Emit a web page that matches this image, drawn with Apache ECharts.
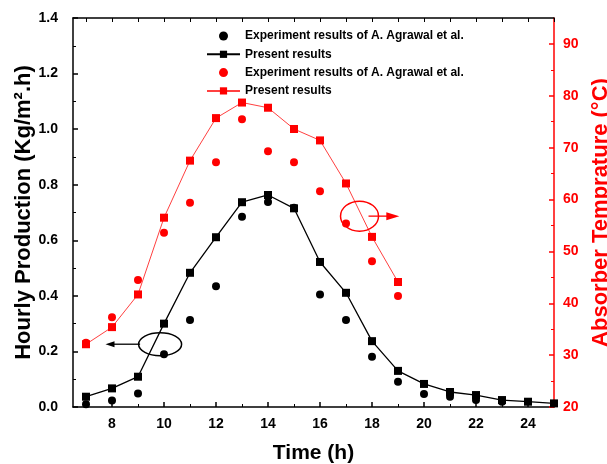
<!DOCTYPE html>
<html><head><meta charset="utf-8">
<script src="https://cdn.jsdelivr.net/npm/echarts@6/dist/echarts.min.js"></script>
<style>html,body{margin:0;padding:0;background:#fff}#c{width:607px;height:464px}</style>
</head><body><div id="c"></div>
<script>
var hoursPresent = [7,8,9,10,11,12,13,14,15,16,17,18,19,20,21,22,23,24,25];
var presentProd = [0.037,0.067,0.109,0.30,0.483,0.611,0.737,0.763,0.715,0.522,0.411,0.237,0.130,0.083,0.054,0.043,0.025,0.019,0.013];
var hoursExp = [7,8,9,10,11,12,13,14,15,16,17,18,19,20,21,22,23];
var expProd = [0.01,0.023,0.049,0.19,0.313,0.435,0.685,0.738,0.717,0.405,0.313,0.181,0.091,0.047,0.037,0.025,0.019];
var hoursTemp = [7,8,9,10,11,12,13,14,15,16,17,18,19];
var presentTemp = [32.1,35.4,41.7,56.5,67.5,75.7,78.7,77.7,73.6,71.4,63.1,52.8,44.1];
var expTemp = [32.4,37.3,44.5,53.6,59.4,67.2,75.5,69.3,67.2,61.6,55.4,48.1,41.4];
var xMajor = [8,10,12,14,16,18,20,22,24];
var xMinor = [7,9,11,13,15,17,19,21,23,25];
var xAll = [7,8,9,10,11,12,13,14,15,16,17,18,19,20,21,22,23,24,25];
var tempMajor = [20,30,40,50,60,70,80,90];
var tempMinor = [25,35,45,55,65,75,85];
var names = ['Experiment results of A. Agrawal et al.', 'Present results', 'Experiment results of A. Agrawal et al. ', 'Present results '];

function pairs(xs, ys){ return xs.map(function(x,i){ return [x, ys[i]]; }); }
var FONT = 'Arial, "Liberation Sans", sans-serif';
var RED = '#ff0000';
var chart = echarts.init(document.getElementById('c'), null, {renderer:'canvas'});
var axBase = {type:'value', min:6.5, max:25, splitLine:{show:false}};
chart.setOption({
  animation:false,
  backgroundColor:'#fff',
  grid:{left:73, right:53, top:18, bottom:57, containLabel:false, outerBoundsMode:'none'},
  legend:{
    orient:'vertical', left:201, top:25, itemWidth:33, itemHeight:9, itemGap:6.3,
    textStyle:{fontFamily:FONT, fontWeight:'bold', fontSize:12, color:'#000'},
    data:names
  },
  xAxis:[
    Object.assign({}, axBase, {position:'bottom', name:'Time (h)', nameLocation:'middle', nameGap:36,
      nameTextStyle:{fontFamily:FONT, fontWeight:'bold', fontSize:21, color:'#000'},
      axisLine:{onZero:false, lineStyle:{color:'#000', width:1.5}},
      axisTick:{inside:true, length:5, customValues:xMajor, lineStyle:{color:'#000', width:1.5}},
      axisLabel:{customValues:xMajor, margin:10, fontFamily:FONT, fontWeight:'bold', fontSize:14, color:'#000'}}),
    Object.assign({}, axBase, {position:'bottom',
      axisLine:{show:false},
      axisTick:{inside:true, length:3, customValues:xMinor, lineStyle:{color:'#000', width:1}},
      axisLabel:{show:false}}),
    Object.assign({}, axBase, {position:'top',
      axisLine:{onZero:false, lineStyle:{color:'#000', width:1.5}},
      axisTick:{inside:true, length:4, customValues:xAll, lineStyle:{color:'#000', width:1}},
      axisLabel:{show:false}})
  ],
  yAxis:[
    {type:'value', position:'left', min:0, max:1.4, interval:0.2, splitLine:{show:false},
      name:'Hourly Production (Kg/m\u00b2.h)', nameLocation:'middle', nameGap:38, nameMoveOverlap:false,
      nameTextStyle:{fontFamily:FONT, fontWeight:'bold', fontSize:22, color:'#000'},
      axisLine:{show:true, onZero:false, lineStyle:{color:'#000', width:1.5}},
      axisTick:{inside:true, length:5, lineStyle:{color:'#000', width:1.5}},
      minorTick:{show:true, splitNumber:2, length:3, lineStyle:{color:'#000', width:1}},
      axisLabel:{margin:15, formatter:function(v){return v.toFixed(1);}, fontFamily:FONT, fontWeight:'bold', fontSize:14, color:'#000'}},
    {type:'value', position:'right', min:20, max:95, interval:10, splitLine:{show:false},
      name:'Absorber Temprature (\u00b0C)', nameLocation:'middle', nameGap:35, nameRotate:90,
      nameTextStyle:{fontFamily:FONT, fontWeight:'bold', fontSize:22, color:RED},
      axisLine:{show:true, onZero:false, lineStyle:{color:RED, width:1.5}},
      axisTick:{inside:true, length:5, customValues:tempMajor, lineStyle:{color:RED, width:1.5}},
      axisLabel:{customValues:tempMajor, margin:9, fontFamily:FONT, fontWeight:'bold', fontSize:14, color:RED}},
    {type:'value', position:'right', min:20, max:95, splitLine:{show:false},
      axisLine:{show:false},
      axisTick:{inside:true, length:3, customValues:tempMinor, lineStyle:{color:RED, width:1}},
      axisLabel:{show:false}}
  ],
  series:[
    {name:names[0], type:'scatter', xAxisIndex:0, yAxisIndex:0, symbol:'circle', symbolSize:8,
      itemStyle:{color:'#000', opacity:1}, data:pairs(hoursExp, expProd), z:3},
    {name:names[1], type:'line', xAxisIndex:0, yAxisIndex:0, symbol:'rect', symbolSize:8, showAllSymbol:true,
      lineStyle:{color:'#000', width:1.3}, itemStyle:{color:'#000'}, data:pairs(hoursPresent, presentProd), z:4},
    {name:names[2], type:'scatter', xAxisIndex:0, yAxisIndex:1, symbol:'circle', symbolSize:8,
      itemStyle:{color:RED, opacity:1}, data:pairs(hoursTemp, expTemp), z:3},
    {name:names[3], type:'line', xAxisIndex:0, yAxisIndex:1, symbol:'rect', symbolSize:8, showAllSymbol:true,
      lineStyle:{color:'#ff4040', width:1}, itemStyle:{color:RED}, data:pairs(hoursTemp, presentTemp), z:4}
  ]
});

// annotations (ellipses with arrows) positioned via the axes
var pb = chart.convertToPixel({xAxisIndex:0, yAxisIndex:0}, [9.85, 0.226]);
var pr = chart.convertToPixel({xAxisIndex:0, yAxisIndex:1}, [17.52, 56.8]);
var pbEnd = chart.convertToPixel({xAxisIndex:0, yAxisIndex:0}, [7.75, 0.226]);
var prEnd = chart.convertToPixel({xAxisIndex:0, yAxisIndex:1}, [19.05, 56.8]);
chart.setOption({graphic:[
  {type:'ellipse', shape:{cx:pb[0], cy:pb[1], rx:21.5, ry:11.5}, style:{fill:null, stroke:'#000', lineWidth:1.5}, z:10},
  {type:'line', shape:{x1:pb[0]-20, y1:pb[1], x2:pbEnd[0]+6, y2:pb[1]}, style:{stroke:'#000', lineWidth:1.3}, z:10},
  {type:'polygon', shape:{points:[[pbEnd[0], pb[1]],[pbEnd[0]+9, pb[1]-3],[pbEnd[0]+9, pb[1]+3]]}, style:{fill:'#000'}, z:10},
  {type:'ellipse', shape:{cx:pr[0], cy:pr[1], rx:19, ry:15}, style:{fill:null, stroke:RED, lineWidth:1.5}, z:10},
  {type:'line', shape:{x1:pr[0]+9, y1:pr[1], x2:prEnd[0]-6, y2:pr[1]}, style:{stroke:RED, lineWidth:1.3}, z:10},
  {type:'polygon', shape:{points:[[prEnd[0], pr[1]],[prEnd[0]-13, pr[1]-4],[prEnd[0]-13, pr[1]+4]]}, style:{fill:RED}, z:10}
]});
</script></body></html>
